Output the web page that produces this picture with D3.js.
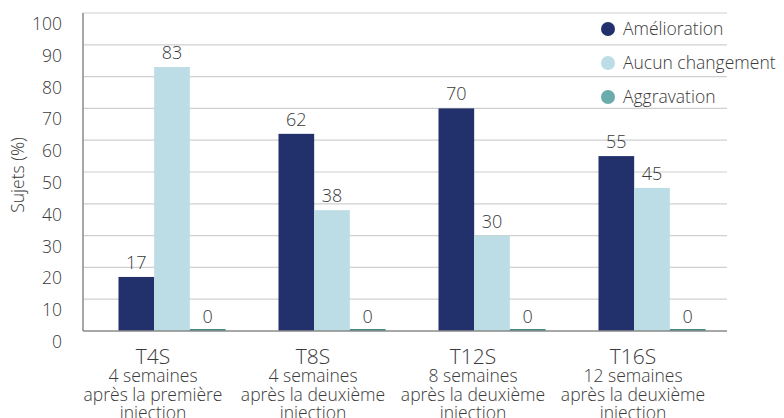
<!DOCTYPE html>
<html>
<head>
<meta charset="utf-8">
<script src="https://cdn.jsdelivr.net/npm/d3@7"></script>
<style>
  body { margin: 0; background: #fff; }
  text { font-family: 'Open Sans', 'Lato', sans-serif; font-weight: 300; fill: #3a3a3a; }
</style>
</head>
<body>
<svg id="chart" width="784" height="418"></svg>
<script>
'use strict'

var categories = ['T4S', 'T8S', 'T12S', 'T16S']
var subLabels = [
  ['4 semaines', 'après la première', 'injection'],
  ['4 semaines', 'après la deuxième', 'injection'],
  ['8 semaines', 'après la deuxième', 'injection'],
  ['12 semaines', 'après la deuxième', 'injection']
]
var seriesNames = ['Amélioration', 'Aucun changement', 'Aggravation']
var amelioration = [17, 62, 70, 55]
var aucunChangement = [83, 38, 30, 45]
var aggravation = [0, 0, 0, 0]
var yTicks = [0, 10, 20, 30, 40, 50, 60, 70, 80, 90, 100]

var seriesValues = [amelioration, aucunChangement, aggravation]
var colors = ['#22316b', '#bcdce6', '#6aabab']
var barColors = ['#22316b', '#bcdce6', '#3f8a86']

var svg = d3.select('#chart')
var plotLeft = 83
var plotRight = 727
var plotTop = 13
var plotBottom = 331

var y = d3.scaleLinear().domain([0, 100]).range([plotBottom, plotTop])
var x = d3.scaleBand().domain(categories).range([73, 713])
var xs = d3.scaleBand().domain(seriesNames).range([0, 107])

// grid
svg.append('g')
  .selectAll('line')
  .data(yTicks.filter((d) => d > 0))
  .enter().append('line')
    .attr('x1', plotLeft)
    .attr('x2', plotRight)
    .attr('y1', (d) => y(d))
    .attr('y2', (d) => y(d))
    .attr('stroke', '#cfcfcf')
    .attr('stroke-width', 1.2)

// tick labels (sit a bit below their gridline, like the original)
svg.append('g')
  .selectAll('text')
  .data(yTicks)
  .enter().append('text')
    .attr('x', 62)
    .attr('y', (d) => y(d) + 17)
    .attr('text-anchor', 'end')
    .style('font-size', '17.5px')
    .text((d) => d)

svg.append('text')
  .attr('transform', 'translate(24,' + 175 + ') rotate(-90)')
  .attr('text-anchor', 'middle')
  .style('font-size', '17.5px')
  .text('Sujets (%)')

// bars
var groups = svg.append('g')
  .selectAll('g')
  .data(categories)
  .enter().append('g')
    .attr('transform', (d) => 'translate(' + (x(d) + x.bandwidth() / 2 - 34.5) + ',0)')

groups.each(function (cat, i) {
  var g = d3.select(this)
  seriesNames.forEach(function (s, j) {
    var v = seriesValues[j][i]
    var h = Math.max(plotBottom - y(v), 2)
    g.append('rect')
      .attr('x', xs(s))
      .attr('width', xs.bandwidth())
      .attr('y', plotBottom - h)
      .attr('height', h)
      .attr('fill', barColors[j])
    g.append('text')
      .attr('x', xs(s) + xs.bandwidth() / 2)
      .attr('y', y(v) - 8)
      .attr('text-anchor', 'middle')
      .style('font-size', '18px')
      .text(v)
  })
})

// axes lines
svg.append('line')
  .attr('x1', plotLeft).attr('x2', plotLeft)
  .attr('y1', plotTop).attr('y2', plotBottom)
  .attr('stroke', '#8a8a8a').attr('stroke-width', 1.5)
svg.append('line')
  .attr('x1', plotLeft).attr('x2', plotRight)
  .attr('y1', plotBottom).attr('y2', plotBottom)
  .attr('stroke', '#8a8a8a').attr('stroke-width', 1.5)

// category labels
var xl = svg.append('g')
  .selectAll('g')
  .data(categories)
  .enter().append('g')
    .attr('transform', (d) => 'translate(' + (x(d) + x.bandwidth() / 2) + ',0)')

xl.append('text')
  .attr('y', 364)
  .attr('text-anchor', 'middle')
  .style('font-size', '21px')
  .text((d) => d)

xl.each(function (d, i) {
  d3.select(this).selectAll('text.sub')
    .data(subLabels[i])
    .enter().append('text')
      .attr('class', 'sub')
      .attr('y', (t, k) => 382 + k * 18.5)
      .attr('text-anchor', 'middle')
      .style('font-size', '17.5px')
      .text((t) => t)
})

// legend
var legend = svg.append('g')
  .selectAll('g')
  .data(seriesNames)
  .enter().append('g')
    .attr('transform', (d, i) => 'translate(608,' + (29 + i * 34) + ')')

legend.append('circle')
  .attr('r', 7)
  .attr('fill', (d, i) => colors[i])

legend.append('text')
  .attr('x', 15)
  .attr('y', 6)
  .style('font-size', '17.5px')
  .text((d) => d)
</script>
</body>
</html>
